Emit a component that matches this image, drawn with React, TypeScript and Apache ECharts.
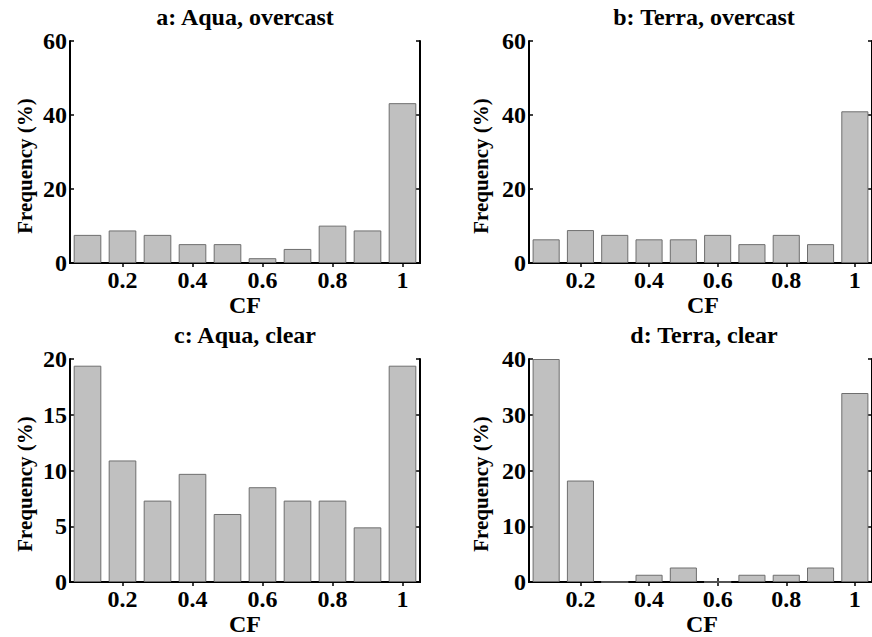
import React, { useEffect, useRef } from "react";
import * as echarts from "echarts";

const categories = ["0.1", "0.2", "0.3", "0.4", "0.5", "0.6", "0.7", "0.8", "0.9", "1"];
const aquaOvercast = [7.6, 8.8, 7.6, 5.1, 5.1, 1.3, 3.8, 10.1, 8.8, 43.2];
const terraOvercast = [6.4, 8.9, 7.6, 6.4, 6.4, 7.6, 5.1, 7.6, 5.1, 41.0];
const aquaClear = [19.4, 10.9, 7.3, 9.7, 6.1, 8.5, 7.3, 7.3, 4.9, 19.4];
const terraClear = [40, 18.2, 0, 1.3, 2.6, 0, 1.3, 1.3, 2.6, 33.9];
const titles = ["a: Aqua, overcast", "b: Terra, overcast", "c: Aqua, clear", "d: Terra, clear"];
const yMax = [60, 60, 20, 40];
const yInterval = [20, 20, 5, 10];
const xName = "CF";
const yName = "Frequency (%)";

const FONT = '"Liberation Serif", "Times New Roman", serif';

export default function App() {
  const ref = useRef<HTMLDivElement>(null);
  useEffect(() => {
    if (!ref.current) return;
    const chart = echarts.init(ref.current, null, { renderer: "svg" });
    const series = [aquaOvercast, terraOvercast, aquaClear, terraClear];
    const grids = [
      { left: 70, top: 41, width: 350, height: 222 },
      { left: 529, top: 41, width: 350, height: 222 },
      { left: 70, top: 359, width: 350, height: 223 },
      { left: 529, top: 359, width: 350, height: 223 },
    ];
    const titlePos = [
      [245, 17], [704, 17], [245, 335], [704, 335],
    ];
    const cfPos = [
      [245, 305], [703, 305], [245, 624], [702, 624],
    ];
    const yNamePos = [
      [25, 166], [481, 166], [25, 484], [481, 484],
    ];
    const axisLine = { show: true, lineStyle: { color: "#000", width: 2 } };
    const oddOnly = (i: number) => i % 2 === 1;
    const xAxis: any[] = [];
    const yAxis: any[] = [];
    const ser: any[] = [];
    for (let g = 0; g < 4; g++) {
      xAxis.push({
        type: "category", gridIndex: g, data: categories, position: "bottom",
        boundaryGap: true, axisLine,
        axisTick: { show: true, inside: true, alignWithLabel: true, interval: oddOnly, length: 4, lineStyle: { color: "#000", width: 1.5 } },
        axisLabel: { interval: oddOnly, color: "#000", fontFamily: FONT, fontWeight: "bold", fontSize: 24, lineHeight: 22, margin: 6 },
        splitLine: { show: false },
      });
      xAxis.push({
        type: "category", gridIndex: g, data: categories, position: "top",
        boundaryGap: true, axisLine,
        axisTick: { show: true, inside: true, alignWithLabel: true, interval: oddOnly, length: 4, lineStyle: { color: "#000", width: 1.5 } },
        axisLabel: { show: false },
        splitLine: { show: false },
      });
      yAxis.push({
        type: "value", gridIndex: g, position: "left", min: 0, max: yMax[g], interval: yInterval[g],
        axisLine,
        axisTick: { show: true, inside: true, length: 4, lineStyle: { color: "#000", width: 1.5 } },
        axisLabel: { color: "#000", fontFamily: FONT, fontWeight: "bold", fontSize: 24, margin: 3 },
        splitLine: { show: false },
      });
      yAxis.push({
        type: "value", gridIndex: g, position: "right", min: 0, max: yMax[g], interval: yInterval[g],
        axisLine,
        axisTick: { show: true, inside: true, length: 4, lineStyle: { color: "#000", width: 1.5 } },
        axisLabel: { show: false },
        splitLine: { show: false },
      });
      ser.push({
        type: "bar", xAxisIndex: g * 2, yAxisIndex: g * 2, data: series[g],
        barCategoryGap: "21%",
        itemStyle: { color: "#c0c0c0", borderColor: "#6e6e6e", borderWidth: 1 },
        z: 1,
      });
    }
    const graphic: any[] = [];
    for (let g = 0; g < 4; g++) {
      graphic.push({
        type: "text", x: titlePos[g][0], y: titlePos[g][1], z: 10,
        style: { text: titles[g], fill: "#000", font: `bold 24px ${FONT}`, textAlign: "center", textVerticalAlign: "middle" },
      });
      graphic.push({
        type: "text", x: cfPos[g][0], y: cfPos[g][1], z: 10,
        style: { text: xName, fill: "#000", font: `bold 24px ${FONT}`, lineHeight: 20, textAlign: "center", textVerticalAlign: "middle" },
      });
      graphic.push({
        type: "text", x: yNamePos[g][0], y: yNamePos[g][1], rotation: Math.PI / 2, z: 10,
        style: { text: yName, fill: "#000", font: `bold 21px ${FONT}`, textAlign: "center", textVerticalAlign: "middle" },
      });
    }
    chart.setOption({
      animation: false,
      backgroundColor: "#fff",
      grid: grids.map((g) => ({ ...g, containLabel: false })),
      xAxis,
      yAxis,
      series: ser,
      graphic,
    });
    return () => chart.dispose();
  }, []);
  return (
    <div
      ref={ref}
      style={{ position: "fixed", left: 0, top: 0, width: 872, height: 637, overflow: "hidden" }}
    />
  );
}
